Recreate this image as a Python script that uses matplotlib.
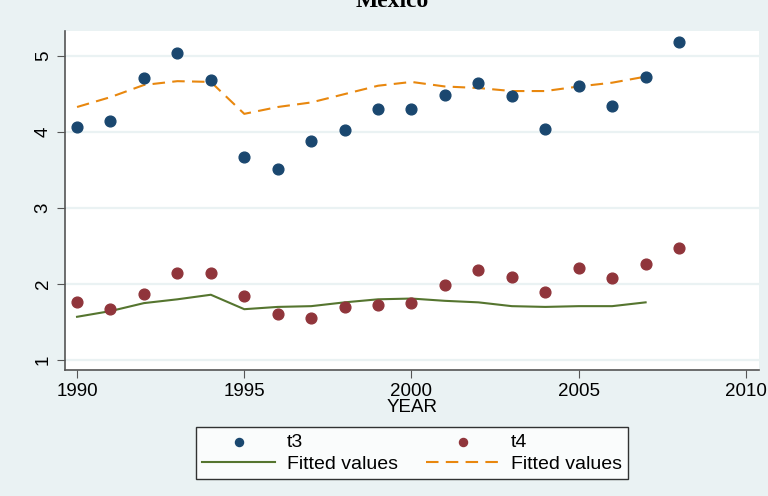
import matplotlib.pyplot as plt

years = list(range(1990, 2009))
t3 = [4.07, 4.14, 4.71, 5.04, 4.68, 3.67, 3.51, 3.88, 4.03, 4.30,
      4.30, 4.49, 4.64, 4.47, 4.04, 4.61, 4.34, 4.72, 5.18]
t4 = [1.76, 1.67, 1.87, 2.14, 2.15, 1.85, 1.61, 1.55, 1.70, 1.73,
      1.75, 1.99, 2.18, 2.10, 1.90, 2.21, 2.08, 2.26, 2.48]

fit_years = list(range(1990, 2008))
fit_t3 = [4.33, 4.46, 4.62, 4.67, 4.66, 4.24, 4.33, 4.39, 4.50, 4.61,
          4.66, 4.60, 4.58, 4.54, 4.54, 4.60, 4.65, 4.73]
fit_t4 = [1.57, 1.645, 1.75, 1.80, 1.86, 1.67, 1.70, 1.71, 1.76, 1.80,
          1.81, 1.78, 1.76, 1.71, 1.70, 1.71, 1.71, 1.76]

xticks = [1990, 1995, 2000, 2005, 2010]
yticks = [1, 2, 3, 4, 5]

navy = '#1A476F'
maroon = '#90353B'
green = '#55752F'
orange = '#E8870E'
bg = '#EAF2F3'

plt.rcParams['font.family'] = ['Liberation Sans', 'DejaVu Sans']

fig = plt.figure(figsize=(7.68, 4.96), dpi=100, facecolor=bg)
ax = fig.add_axes([65 / 768, 126 / 496, 694 / 768, 339 / 496])
ax.set_facecolor('white')

ax.scatter(years, t3, s=60, color=navy, zorder=3, label='t3')
ax.scatter(years, t4, s=60, color=maroon, zorder=3, label='t4')
ax.plot(fit_years, fit_t4, color=green, lw=1.5, label='Fitted values')
ax.plot(fit_years, fit_t3, color=orange, lw=1.5, dashes=(6, 3.5), label='Fitted values')

ax.set_xlim(1989.64, 2010.39)
ax.set_ylim(0.87, 5.33)
ax.set_xticks(xticks)
ax.set_yticks(yticks)
ax.tick_params(axis='both', labelsize=13.5, length=6, color='#555555')
ax.tick_params(axis='y', labelrotation=90)
for lbl in ax.get_yticklabels():
    lbl.set_va('center')
ax.yaxis.grid(True, color=bg, lw=1.6)
ax.set_axisbelow(True)
for side in ['top', 'right']:
    ax.spines[side].set_visible(False)
for side in ['left', 'bottom']:
    ax.spines[side].set_color('#555555')
    ax.spines[side].set_linewidth(1.2)

ax.set_xlabel('YEAR', fontsize=13.5, labelpad=-1)

# legend filled column by column: t3 / fit(t4) then t4 / fit(t3)
handles, labels = ax.get_legend_handles_labels()
order = [0, 2, 1, 3]
leg = fig.legend([handles[i] for i in order], [labels[i] for i in order],
                 ncol=2, loc='center', bbox_to_anchor=(412 / 768, 1 - 453 / 496),
                 fontsize=14, frameon=True, fancybox=False, edgecolor='black',
                 handlelength=3.75, handletextpad=0.6, columnspacing=1.45,
                 borderpad=0.35, borderaxespad=0, labelspacing=0.2,
                 markerscale=0.75)
leg.get_frame().set_linewidth(1.0)

fig.text(392 / 768, 1 - 7 / 496, 'Mexico', ha='center', va='baseline',
         fontsize=17, fontweight='bold', family='Liberation Serif')

fig.savefig('out.png', dpi=100, facecolor=bg)
